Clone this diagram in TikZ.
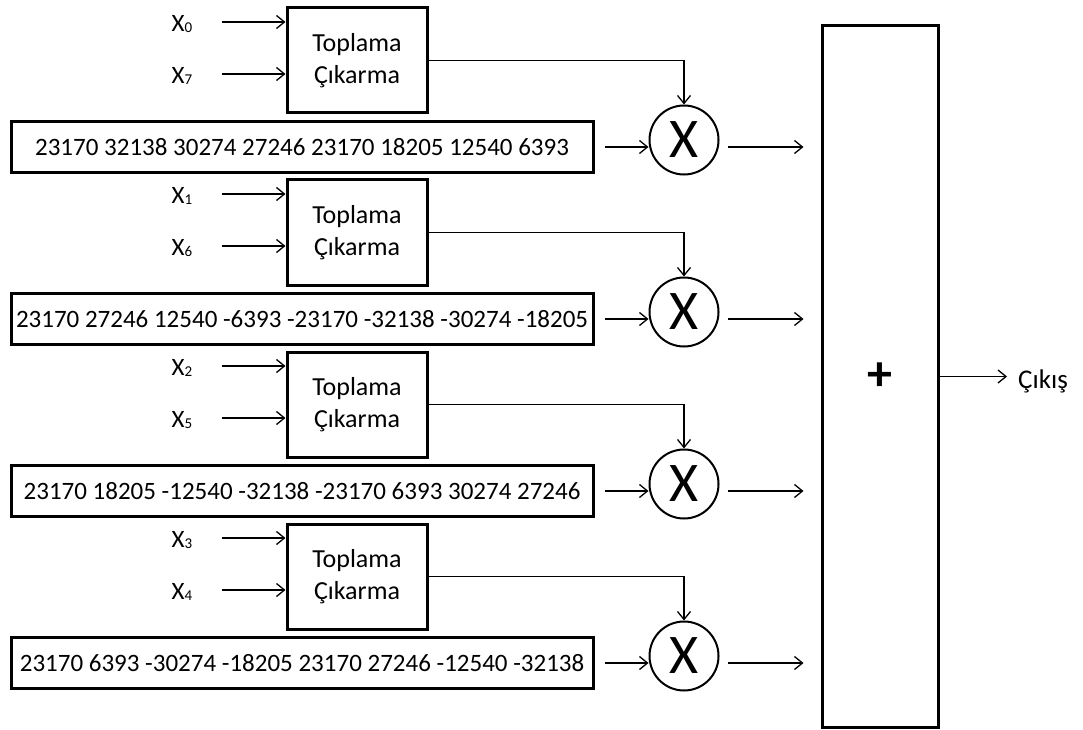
\documentclass[tikz,border=0pt]{standalone}
\usepackage{fontspec}
\setmainfont{Carlito}
\usetikzlibrary{arrows.meta,calc}
\begin{document}
\begin{tikzpicture}[x=1pt,y=-1pt,
  every node/.style={font=\fontsize{25}{30}\selectfont},
  opbox/.style={draw,line width=3pt,minimum width=140pt,minimum height=105pt,align=center,inner sep=0pt,font=\fontsize{26}{32}\selectfont},
  coefbox/.style={draw,line width=3pt,minimum width=582pt,minimum height=51pt,inner sep=0pt},
  mulnode/.style={draw,circle,line width=2pt,minimum size=69pt,inner sep=0pt,font=\fontsize{56}{56}\selectfont},
  sumbox/.style={draw,line width=3pt,minimum width=116pt,minimum height=701pt,inner sep=0pt,font=\fontsize{50}{50}\selectfont\bfseries},
  lbl/.style={inner sep=0pt},
  arr/.style={line width=1.3pt,-{Straight Barb[length=8pt,width=13pt,line width=1.3pt]}}
]
\useasboundingbox (0,0) rectangle (1083,730);
\fill[white] (0,0) rectangle (1083,730);

\node[sumbox] (sum) at (880,376.5) {+};

\foreach \i/\a/\b/\txt in {
 0/0/7/23170 32138 30274 27246 23170 18205 12540 6393,
 1/1/6/23170 27246 12540 -6393 -23170 -32138 -30274 -18205,
 2/2/5/23170 18205 -12540 -32138 -23170 6393 30274 27246,
 3/3/4/23170 6393 -30274 -18205 23170 27246 -12540 -32138}{
  \node[opbox] (t\i) at (357,{60.5+172*\i}) {Toplama\\Çıkarma};
  \node[coefbox] (c\i) at (302,{147+172*\i}) {\txt};
  \node[mulnode] (m\i) at (684,{140+172*\i}) {X};
  \coordinate (ia\i) at (222,{22+172*\i});
  \coordinate (ib\i) at (222,{74+172*\i});
  \node[lbl] (xa\i) at (182,{24+172*\i}) {X\raisebox{-1pt}{\fontsize{15}{15}\selectfont\a}};
  \node[lbl] (xb\i) at (182,{76+172*\i}) {X\raisebox{-1pt}{\fontsize{15}{15}\selectfont\b}};
  \draw[arr] (ia\i) -- (ia\i -| t\i.west);
  \draw[arr] (ib\i) -- (ib\i -| t\i.west);
  \draw[arr] (t\i.east) -| (m\i.north);
  \draw[arr,shorten <=10pt] (c\i.east) -- (c\i.east -| m\i.west);
  \draw[arr,shorten <=8pt,shorten >=17pt] (m\i.east |- c\i.east) -- (c\i.east -| sum.west);
}

\node[lbl,anchor=base west,font=\fontsize{27}{30}\selectfont] (out) at (1018,388) {Çıkış};
\draw[arr,shorten >=11pt] (sum.east) -- (sum.east -| out.west);
\end{tikzpicture}
\end{document}
